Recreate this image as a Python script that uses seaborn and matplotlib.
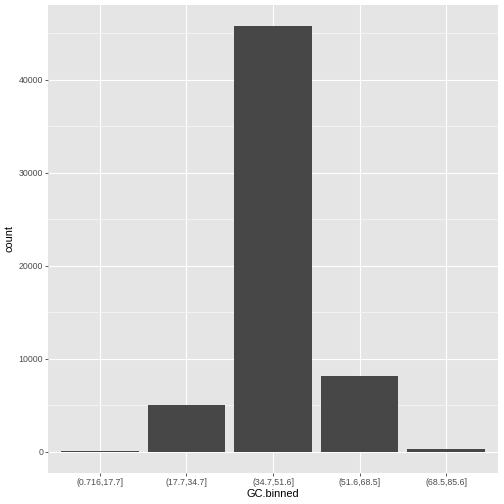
import pandas as pd
import matplotlib.pyplot as plt
import seaborn as sns
from matplotlib.ticker import MultipleLocator

bins = ['(0.716,17.7]', '(17.7,34.7]', '(34.7,51.6]', '(51.6,68.5]', '(68.5,85.6]']
counts = [60, 5000, 45720, 8120, 290]

df = pd.DataFrame({'GC.binned': bins, 'count': counts})

sns.set_theme(style="darkgrid", rc={
    'axes.facecolor': '#E5E5E5',
    'grid.color': 'white',
    'axes.edgecolor': '#E5E5E5',
})
plt.rcParams['font.family'] = ['Liberation Sans', 'DejaVu Sans']

fig = plt.figure(figsize=(7, 7), dpi=72)
ax = fig.add_axes([48 / 504, 1 - 473 / 504, 450 / 504, 468 / 504])

sns.barplot(data=df, x='GC.binned', y='count', color='#474747', width=0.9,
            saturation=1, linewidth=0, edgecolor='none', ax=ax, zorder=3)

top = max(counts)
ax.set_ylim(-0.05 * top, 1.05 * top)
ax.set_xlim(-0.6, len(bins) - 0.4)
ax.yaxis.set_major_locator(MultipleLocator(10000))
ax.yaxis.set_minor_locator(MultipleLocator(5000))
ax.grid(True, which='major', color='white', linewidth=1.1)
ax.grid(True, which='minor', axis='y', color='#F2F2F2', linewidth=1.0)
ax.set_axisbelow(True)
for s in ax.spines.values():
    s.set_visible(False)

ax.tick_params(axis='both', which='major', length=2.75, width=0.8, color='#333333',
               labelsize=8.8, labelcolor='#4D4D4D', pad=2.2, bottom=True, left=True)
ax.tick_params(axis='both', which='minor', length=0)
ax.set_xlabel('GC.binned', fontsize=11, color='black', labelpad=2.5)
ax.set_ylabel('count', fontsize=11, color='black', labelpad=4)

fig.savefig('out.png', dpi=72, facecolor='white')
